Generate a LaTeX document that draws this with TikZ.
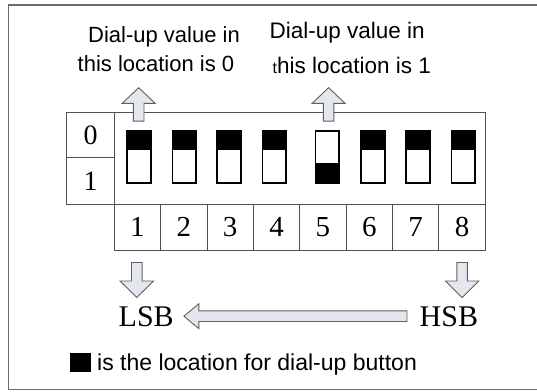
\documentclass[tikz,border=0pt]{standalone}
\usepackage{fontspec}
\setmainfont{Liberation Serif}
\newfontfamily\arialf{Liberation Sans}
\usetikzlibrary{calc}
\definecolor{linec}{RGB}{80,80,80}
\definecolor{framec}{RGB}{105,105,105}
\definecolor{arrfill}{RGB}{228,232,238}
\definecolor{arrline}{RGB}{95,95,95}
\newcommand\blkup[1]{\filldraw[blockarr] (#1) -- ++(16.5,15.7) -- ++(-11.2,0) -- ++(0,17.7) -- ++(-10.6,0) -- ++(0,-17.7) -- ++(-11.2,0) -- cycle;}
\newcommand\blkdown[1]{\filldraw[blockarr] (#1) -- ++(16.7,-16.5) -- ++(-11.4,0) -- ++(0,-18.5) -- ++(-10.6,0) -- ++(0,18.5) -- ++(-11.4,0) -- cycle;}
\begin{document}
\begin{tikzpicture}[x=1pt,y=-1pt,
  cellbox/.style={draw=linec,line width=1pt,minimum width=46.375pt,minimum height=45.7pt,inner sep=0pt,font=\fontsize{29}{29}\selectfont},
  labbox/.style={draw=linec,line width=1pt,minimum width=47.6pt,inner sep=0pt,font=\fontsize{28}{28}\selectfont},
  swbox/.style={draw=black,line width=1.2pt,minimum width=23pt,minimum height=51pt,inner sep=0pt,fill=white},
  sanstext/.style={font=\arialf\fontsize{22}{22}\selectfont,inner sep=0pt,anchor=base west},
  serifbig/.style={font=\fontsize{30}{30}\selectfont,inner sep=0pt,anchor=base west},
  blockarr/.style={draw=arrline,fill=arrfill,line width=0.9pt,line join=miter},
  ]
\useasboundingbox (0,0) rectangle (537,391);
\fill[white] (0,0) rectangle (537,391);
\draw[framec,line width=1.5pt] (537,5) -- (8.3,5) -- (8.3,389.5) -- (537,389.5);

% texts on top
\node[sanstext] (t0a) at (88,42.7) {Dial-up value in};
\node[sanstext] (t0b) at (77.5,71.7) {this location is 0};
\node[sanstext,font=\arialf\fontsize{22.5}{22.5}\selectfont] (t1a) at (269.5,38.3) {Dial-up value in};
\node[sanstext,font=\arialf\fontsize{22.5}{22.5}\selectfont] (t1b) at (272.5,73.3) {{\fontsize{16}{16}\selectfont t}his location is 1};

% main box
\node[draw=linec,line width=1pt,minimum width=371pt,minimum height=92pt,inner sep=0pt] (box) at (299.8,158.3) {};
\node[labbox,minimum height=45.4pt] (l0) at (90.5,135) {0};
\node[labbox,minimum height=46.6pt] (l1) at (90.5,181) {1};

% number cells
\foreach \i in {1,...,8}{
  \node[cellbox] (c\i) at ({114.3+46.375*(\i-0.5)},227.15) {\i};
}

% switches
\foreach \i/\x in {1/139,2/184.2,3/229,4/274.2,6/373,7/418,8/463.2}{
  \node[swbox] (sw\i) at (\x,156.8) {};
  \fill[black] (sw\i.north west) rectangle ($(sw\i.north east)+(0,19.5)$);
  \draw[black,line width=1.2pt] (sw\i.north west) rectangle (sw\i.south east);
}
\node[swbox] (sw5) at (327.2,156.8) {};
\fill[black] ($(sw5.south west)+(0,-20)$) rectangle (sw5.south east);
\draw[black,line width=1.2pt] (sw5.north west) rectangle (sw5.south east);

% up arrows
\coordinate (u1) at ($(sw1.north)+(-0.3,-43)$);
\coordinate (u5) at ($(sw5.north)+(1.4,-43)$);
\blkup{u1}
\blkup{u5}

% down arrows
\coordinate (d1) at ($(c1.south)+(-0.7,47)$);
\coordinate (d8) at ($(c8.south)+(0,47)$);
\blkdown{d1}
\blkdown{d8}

% LSB / HSB
\node[serifbig] (lsb) at (118.5,326) {LSB};
\node[serifbig] (hsb) at (419.5,326) {HSB};
\draw[blockarr] let \p1=($(lsb.east)+(10,0)$), \p2=($(hsb.west)+(-12.5,0)$) in
  (\x1,\y1) -- (\x1+15pt,\y1+12.5pt) -- (\x1+15pt,\y1+5.3pt) -- (\x2,\y1+5.3pt)
  -- (\x2,\y1-5.3pt) -- (\x1+15pt,\y1-5.3pt) -- (\x1+15pt,\y1-12.5pt) -- cycle;

% legend
\node[fill=black,minimum width=20.7pt,minimum height=18.4pt,inner sep=0pt] (sq) at (80.35,362.5) {};
\node[sanstext,font=\arialf\fontsize{23}{23}\selectfont] (leg) at (97,370.7) {is the location for dial-up button};
\end{tikzpicture}
\end{document}
